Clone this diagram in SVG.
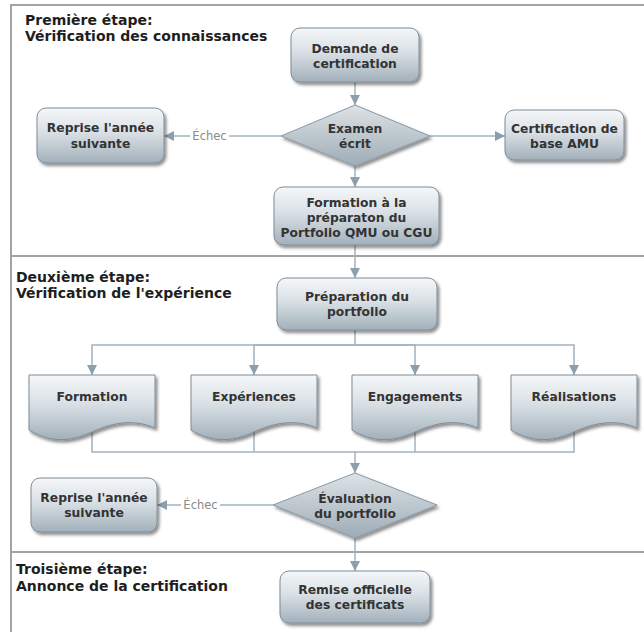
<svg xmlns="http://www.w3.org/2000/svg" width="644" height="632" viewBox="0 0 644 632">
<defs>
<linearGradient id="gBox" x1="0" y1="0" x2="0" y2="1">
<stop offset="0" stop-color="#f5f7f9"/>
<stop offset="0.45" stop-color="#d9e0e5"/>
<stop offset="1" stop-color="#a2b0ba"/>
</linearGradient>
<linearGradient id="gDia" x1="0" y1="0" x2="0" y2="1">
<stop offset="0" stop-color="#dde3e7"/>
<stop offset="1" stop-color="#9eabb5"/>
</linearGradient>
<filter id="sh" x="-10%" y="-10%" width="130%" height="140%">
<feDropShadow dx="2" dy="2.5" stdDeviation="1.5" flood-color="#000" flood-opacity="0.45"/>
</filter>
<marker id="arr" viewBox="0 0 10 10" refX="10" refY="5" markerWidth="10" markerHeight="10" markerUnits="userSpaceOnUse" orient="auto">
<path d="M0,0 L10,5 L0,10 Z" fill="#8c9fad"/>
</marker>
<path id="doc" d="M0,0 H126 V53 C105,44 85,47 63,57 C45,65 25,70 0,55 Z"/>
</defs>
<style>
.frame{stroke:#a3a3a3;stroke-width:2;fill:none}
.hdr{font-family:"DejaVu Sans",Verdana,sans-serif;font-weight:bold;font-size:14px;fill:#1e1e1e}
.box{fill:url(#gBox);stroke:#7d8c97;stroke-width:1;filter:url(#sh)}
.dia{fill:url(#gDia);stroke:#8a98a3;stroke-width:1;filter:url(#sh)}
.t{font-family:"DejaVu Sans",Verdana,sans-serif;font-weight:bold;font-size:12.3px;fill:#333;text-anchor:middle}
.c{stroke:#a3b3be;stroke-width:1.5;fill:none}
.lbl{font-family:"DejaVu Sans",Verdana,sans-serif;font-size:11.5px;fill:#8a8a8a;text-anchor:middle}
</style>
<rect width="644" height="632" fill="#fff"/>
<g id="frame">
<path class="frame" d="M11,632 V5 H644"/>
<path class="frame" d="M11,256 H644"/>
<path class="frame" d="M11,552 H644"/>
</g>
<g id="headers">
<text class="hdr" x="25" y="25">Première étape:</text>
<text class="hdr" x="25" y="41">Vérification des connaissances</text>
<text class="hdr" x="16" y="282">Deuxième étape:</text>
<text class="hdr" x="16" y="298">Vérification de l'expérience</text>
<text class="hdr" x="16" y="574">Troisième étape:</text>
<text class="hdr" x="16" y="591">Annonce de la certification</text>
</g>
<g id="connectors">
<path class="c" d="M355,82 V105" marker-end="url(#arr)"/>
<path class="c" d="M281,136 H164" marker-end="url(#arr)"/>
<path class="c" d="M430,136 H505" marker-end="url(#arr)"/>
<path class="c" d="M355,166 V187" marker-end="url(#arr)"/>
<path class="c" d="M355,245 V278" marker-end="url(#arr)"/>
<path class="c" d="M355,330 V345 H92 V375" marker-end="url(#arr)"/>
<path class="c" d="M355,345 H254 V375" marker-end="url(#arr)"/>
<path class="c" d="M355,345 H415 V375" marker-end="url(#arr)"/>
<path class="c" d="M355,345 H574 V375" marker-end="url(#arr)"/>
<path class="c" d="M92,430 V452 H355"/>
<path class="c" d="M254,430 V452"/>
<path class="c" d="M415,430 V452"/>
<path class="c" d="M574,430 V452 H355 V473" marker-end="url(#arr)"/>
<path class="c" d="M273,505 H157" marker-end="url(#arr)"/>
<path class="c" d="M355,538 V571" marker-end="url(#arr)"/>
<rect x="190" y="129" width="39" height="14" fill="#fff"/>
<text class="lbl" x="209.5" y="140">Échec</text>
<rect x="181" y="498" width="39" height="14" fill="#fff"/>
<text class="lbl" x="200.5" y="509">Échec</text>
</g>
<g id="demande">
<rect class="box" x="291" y="28" width="128" height="54" rx="9"/>
<text class="t" x="355" y="53">Demande de</text>
<text class="t" x="355" y="68">certification</text>
</g>
<g id="examen">
<polygon class="dia" points="355,105 430,136 355,166 281,136"/>
<text class="t" x="355" y="133">Examen</text>
<text class="t" x="355" y="148">écrit</text>
</g>
<g id="reprise1">
<rect class="box" x="37" y="108" width="127" height="55" rx="9"/>
<text class="t" x="100.5" y="132">Reprise l'année</text>
<text class="t" x="100.5" y="148">suivante</text>
</g>
<g id="certif">
<rect class="box" x="505" y="110" width="119" height="50" rx="9"/>
<text class="t" x="564.5" y="133">Certification de</text>
<text class="t" x="564.5" y="148">base AMU</text>
</g>
<g id="formationprep">
<rect class="box" x="274" y="187" width="165" height="58" rx="9"/>
<text class="t" x="356.5" y="207">Formation à la</text>
<text class="t" x="356.5" y="222">préparaton  du</text>
<text class="t" x="356.5" y="237">Portfolio QMU ou CGU</text>
</g>
<g id="preparation">
<rect class="box" x="277" y="278" width="160" height="52" rx="9"/>
<text class="t" x="357" y="301">Préparation du</text>
<text class="t" x="357" y="316">portfolio</text>
</g>
<g id="doc-formation">
<use href="#doc" class="box" transform="translate(29,375)"/>
<text class="t" x="92" y="401">Formation</text>
</g>
<g id="doc-experiences">
<use href="#doc" class="box" transform="translate(191,375)"/>
<text class="t" x="254" y="401">Expériences</text>
</g>
<g id="doc-engagements">
<use href="#doc" class="box" transform="translate(352,375)"/>
<text class="t" x="415" y="401">Engagements</text>
</g>
<g id="doc-realisations">
<use href="#doc" class="box" transform="translate(511,375)"/>
<text class="t" x="574" y="401">Réalisations</text>
</g>
<g id="evaluation">
<polygon class="dia" points="355,473 437,505 355,538 273,505"/>
<text class="t" x="355" y="503">Évaluation</text>
<text class="t" x="355" y="518">du portfolio</text>
</g>
<g id="reprise2">
<rect class="box" x="31" y="478" width="126" height="54" rx="9"/>
<text class="t" x="94" y="502">Reprise l'année</text>
<text class="t" x="94" y="517">suivante</text>
</g>
<g id="remise">
<rect class="box" x="280" y="571" width="150" height="52" rx="9"/>
<text class="t" x="355" y="594">Remise officielle</text>
<text class="t" x="355" y="609">des certificats</text>
</g>
</svg>
